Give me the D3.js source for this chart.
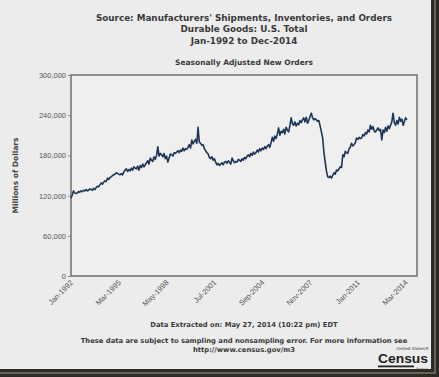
<!DOCTYPE html>
<html>
<head>
<meta charset="utf-8">
<script src="https://cdn.jsdelivr.net/npm/d3@7/dist/d3.min.js"></script>
<style>
  body { margin: 0; background: #ececec; }
  svg { display: block; font-family: "DejaVu Sans", Verdana, sans-serif; }
  .axis path, .axis line { stroke: #888; }
  .axis text { fill: #555; }
</style>
</head>
<body>
<div id="chart"></div>
<script>
// monthly new orders, millions of dollars, Jan-1992 onward
const orders = [
  116, 121, 127, 124, 123, 124, 126, 125, 127, 126, 128, 127,
  129, 127, 128, 130, 129, 128, 131, 129, 132, 134, 133, 136,
  139, 137, 140, 142, 141, 146, 144, 147, 148, 150, 151, 152,
  154, 153, 152, 151, 153, 151, 155, 158, 160, 156, 159, 157,
  161, 158, 163, 161, 160, 164, 158, 165, 162, 167, 163, 166,
  169, 172, 167, 176, 173, 171, 178, 174, 180, 193, 179, 183,
  181, 178, 183, 175, 179, 170, 176, 182, 181, 179, 184, 183,
  185, 187, 184, 188, 186, 191, 187, 190, 189, 192, 196, 191,
  203, 197, 201, 204, 198, 222, 200, 198, 195, 196, 190, 187,
  184, 182, 177, 175, 178, 173, 175, 170, 166, 168, 165, 167,
  169, 166, 170, 171, 168, 172, 170, 167, 176, 172, 169, 171,
  170, 174, 173, 171, 175, 173, 177, 175, 179, 181, 178, 183,
  180, 185, 182, 184, 188, 185, 190, 187, 191, 189, 193, 190,
  194, 196, 192, 199, 207, 201, 209, 205, 212, 221, 210, 216,
  214, 219, 212, 222, 218, 215, 224, 236, 227, 225, 230, 224,
  228, 226, 232, 229, 233, 236, 230, 237, 228, 232, 238, 243,
  236, 233, 235, 233, 231, 232, 224, 215, 206, 185, 170, 157,
  148, 147, 149, 146, 150, 154, 152, 158, 157, 160, 163, 162,
  181, 178, 186, 184, 183, 190, 192, 198, 194, 196, 199, 206,
  204, 207, 205, 206, 211, 209, 214, 212, 218, 215, 225, 219,
  223, 216, 215, 218, 221, 217, 219, 203, 218, 214, 222, 216,
  224, 220, 225, 230, 243, 229, 225, 232, 227, 237, 231, 234,
  225, 231, 236, 233
].map(v => v * 1000);

const yTicks = [0, 60000, 120000, 180000, 240000, 300000];
const xTickLabels = ['Jan-1992', 'Mar-1995', 'May-1998', 'Jul-2001', 'Sep-2004', 'Nov-2007', 'Jan-2011', 'Mar-2014'];
const titleLines = ["Source: Manufacturers' Shipments, Inventories, and Orders", 'Durable Goods: U.S. Total', 'Jan-1992 to Dec-2014'];
const footLines = ['These data are subject to sampling and nonsampling error. For more information see', 'http://www.census.gov/m3'];

const W = 439, H = 377;
const plot = {left: 71, right: 417, top: 75, bottom: 276};
const cx = 244;

const parseTick = d3.timeParse('%b-%Y');
const data = orders.map((v, i) => ({date: new Date(1992, i, 1), value: v}));

const svg = d3.select('#chart').append('svg')
    .attr('width', W)
    .attr('height', H);

svg.append('rect').attr('width', W).attr('height', H).attr('fill', '#ececec');

// frame shadow on right and bottom
svg.append('rect').attr('x', 431).attr('y', 0).attr('width', 8).attr('height', H).attr('fill', '#2e2a25');
svg.append('rect').attr('x', 0).attr('y', 369).attr('width', W).attr('height', 8).attr('fill', '#2e2a25');
svg.append('rect').attr('x', 434).attr('y', 0).attr('width', 2).attr('height', 372).attr('fill', '#6b6257');
svg.append('rect').attr('x', 0).attr('y', 372).attr('width', 436).attr('height', 2).attr('fill', '#6b6257');

const x = d3.scaleTime()
    .domain([new Date(1992, 0, 1), new Date(2014, 11, 1)])
    .range([plot.left, plot.right]);

const y = d3.scaleLinear()
    .domain([0, 300000])
    .range([plot.bottom, plot.top]);

// titles
svg.append('g').selectAll('text')
    .data(titleLines).enter().append('text')
    .attr('x', cx)
    .attr('y', (d, i) => 21 + i * 11.3)
    .attr('text-anchor', 'middle')
    .attr('font-size', '8.8px')
    .attr('font-weight', 'bold')
    .attr('fill', '#3a3a3a')
    .text(d => d);

svg.append('text')
    .attr('x', cx).attr('y', 65)
    .attr('text-anchor', 'middle')
    .attr('font-size', '7.5px')
    .attr('font-weight', 'bold')
    .attr('fill', '#3a3a3a')
    .text('Seasonally Adjusted New Orders');

// plot box
svg.append('rect')
    .attr('x', plot.left).attr('y', plot.top)
    .attr('width', plot.right - plot.left)
    .attr('height', plot.bottom - plot.top)
    .attr('fill', '#efefef')
    .attr('stroke', '#777')
    .attr('stroke-width', 1.6);

const yAxis = d3.axisLeft(y)
    .tickValues(yTicks)
    .tickSize(3)
    .tickPadding(2)
    .tickFormat(d3.format(','));

svg.append('g')
    .attr('class', 'y axis')
    .attr('transform', 'translate(' + plot.left + ',0)')
    .call(yAxis)
    .call(g => g.select('.domain').remove())
    .selectAll('text')
        .attr('font-size', '7.5px');

const xAxis = d3.axisBottom(x)
    .tickValues(xTickLabels.map(parseTick))
    .tickSize(0)
    .tickFormat(d3.timeFormat('%b-%Y'));

svg.append('g')
    .attr('class', 'x axis')
    .attr('transform', 'translate(0,' + plot.bottom + ')')
    .call(xAxis)
    .call(g => g.select('.domain').remove())
    .selectAll('text')
        .attr('font-size', '7.5px')
        .attr('dy', 0)
        .attr('transform', 'translate(0,5)rotate(-45)')
        .style('text-anchor', 'end');

svg.append('text')
    .attr('transform', 'translate(18,' + ((plot.top + plot.bottom) / 2) + ')rotate(-90)')
    .attr('text-anchor', 'middle')
    .attr('font-size', '7.5px')
    .attr('font-weight', 'bold')
    .attr('fill', '#444')
    .text('Millions of Dollars');

// the series
const line = d3.line()
    .x(d => x(d.date))
    .y(d => y(d.value));

svg.append('path')
    .datum(data)
    .attr('fill', 'none')
    .attr('stroke', '#1d3557')
    .attr('stroke-width', 1.6)
    .attr('stroke-linejoin', 'round')
    .attr('d', line);

// footer
svg.append('text')
    .attr('x', cx).attr('y', 327)
    .attr('text-anchor', 'middle')
    .attr('font-size', '6.8px')
    .attr('font-weight', 'bold')
    .attr('fill', '#3a3a3a')
    .text('Data Extracted on: May 27, 2014 (10:22 pm) EDT');

svg.append('g').selectAll('text')
    .data(footLines).enter().append('text')
    .attr('x', cx)
    .attr('y', (d, i) => 343 + i * 9)
    .attr('text-anchor', 'middle')
    .attr('font-size', '6.8px')
    .attr('font-weight', 'bold')
    .attr('fill', '#3a3a3a')
    .text(d => d);

// census logo
const logo = svg.append('g').attr('transform', 'translate(428,0)');
logo.append('text').attr('x', 1).attr('y', 349.6).attr('text-anchor', 'end')
    .attr('font-size', '4.2px').attr('fill', '#333').text('United States\u00ae');
logo.append('text').attr('x', -50).attr('y', 363.3)
    .attr('textLength', 50).attr('lengthAdjust', 'spacingAndGlyphs')
    .attr('font-size', '13.5px').attr('font-weight', 'bold').attr('fill', '#222')
    .attr('font-family', '"Liberation Sans Narrow", "Liberation Sans", sans-serif')
    .text('Census');
logo.append('rect').attr('x', -50).attr('y', 365.5).attr('width', 36).attr('height', 1.8).attr('fill', '#222');
logo.append('text').attr('x', 0).attr('y', 369.8).attr('text-anchor', 'end')
    .attr('font-size', '3.2px').attr('fill', '#333').text('Bureau');
</script>
</body>
</html>
